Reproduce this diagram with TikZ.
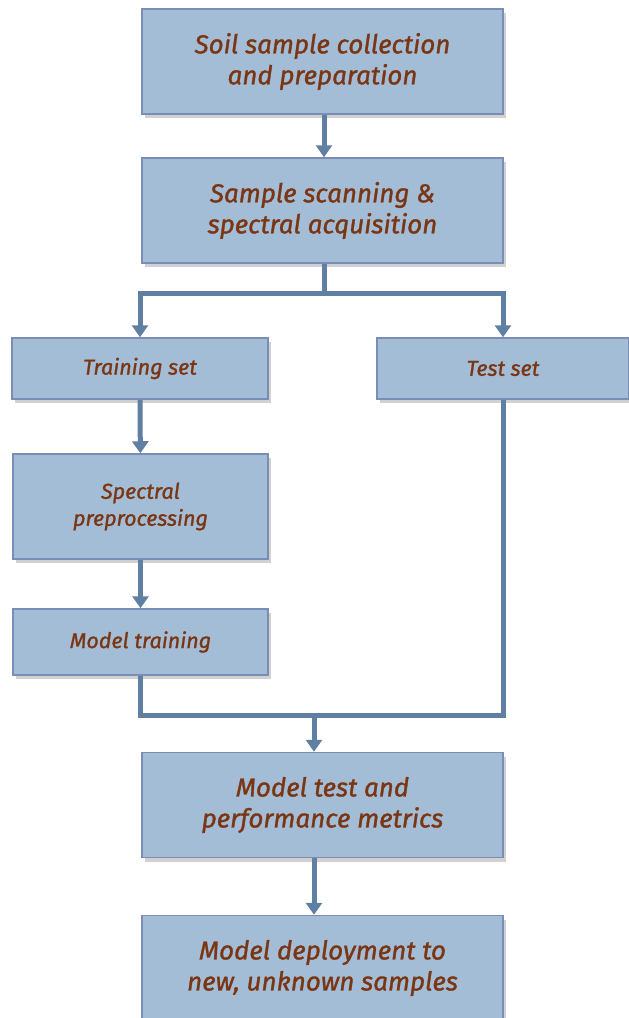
\documentclass[tikz,border=0pt]{standalone}
\usepackage{fontspec}
\setmainfont{Fira Sans}
\newfontfamily\stagefont{Fira Sans}[FakeBold=1.2]
\usepackage{tikz}
\usetikzlibrary{shapes,arrows.meta,shadows}
\usepackage{xcolor}

\definecolor{boxfill}{HTML}{A4BDD7}
\definecolor{boxline}{HTML}{7C8DB5}
\definecolor{flowblue}{HTML}{5F7FA3}
\definecolor{textbrown}{HTML}{7A3512}

\tikzset{
  stage/.style = {draw = boxline, line width = 1.5pt, fill = boxfill, inner sep = 0pt,
    align = center, text = textbrown,
    drop shadow = {shadow xshift = 3pt, shadow yshift = -4pt, opacity = 0.3, fill = black!60}},
  bigstage/.style = {stage, minimum width = 361pt, minimum height = 105pt,
    font = \stagefont\itshape\fontsize{26}{31}\selectfont},
  smallstage/.style = {stage, font = \stagefont\itshape\fontsize{21.5}{27}\selectfont},
  pipe/.style = {draw = flowblue, line width = 5pt},
  flow/.style = {pipe, -{Triangle[width = 16pt, length = 12pt]}}
}

\begin{document}
\begin{tikzpicture}[x = 1pt, y = -1pt]
	\useasboundingbox (0,0) rectangle (629,1018);
	\clip (0,0) rectangle (629,1018);
	% main stages
	\node[bigstage] (soil) at (322.5, 61.5) {Soil sample collection\\and preparation};
	\node[bigstage] (scan) at (322.5, 210.5) {Sample scanning \&\\spectral acquisition};
	\node[smallstage, minimum width = 256pt, minimum height = 61pt] (train) at (140, 368.5) {Training set};
	\node[smallstage, minimum width = 252pt, minimum height = 61pt] (test) at (503, 368.5) {Test set};
	\node[smallstage, minimum width = 255pt, minimum height = 105pt] (prep) at (140.5, 506.5) {Spectral\\preprocessing};
	\node[smallstage, minimum width = 255pt, minimum height = 66pt] (fit) at (140.5, 642) {Model training};
	\node[bigstage] (eval) at (322.5, 805) {Model test and\\performance metrics};
	\node[bigstage] (deploy) at (322.5, 968) {Model deployment to\\new, unknown samples};
	\coordinate (split) at (324, 293);
	\coordinate (merge) at (314, 715);
	% connectors
	\draw[flow] (soil.south -| split) -- (scan.north -| split);
	\draw[pipe] (scan.south -| split) -- (split);
	\draw[flow] (split) -| (train.north);
	\draw[flow] (split) -| (test.north);
	\draw[flow] (train) -- (prep);
	\draw[flow] (prep) -- (fit);
	\draw[pipe] (fit.south) |- (test.south |- merge) -- (test.south);
	\draw[flow] (merge) -- (eval.north -| merge);
	\draw[flow] (eval.south -| merge) -- (deploy.north -| merge);
\end{tikzpicture}
\end{document}
